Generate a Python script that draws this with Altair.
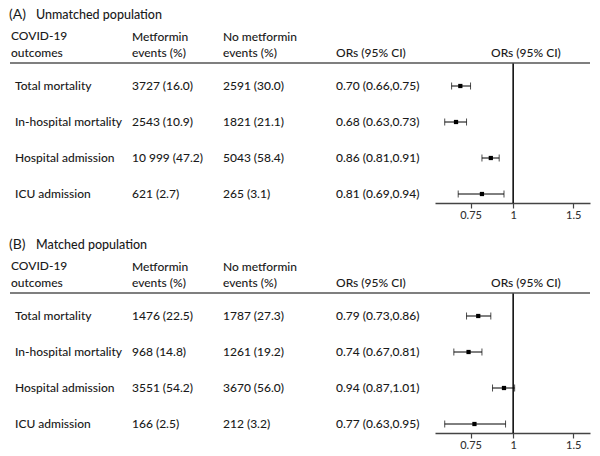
import altair as alt
import pandas as pd

# ---- data ---------------------------------------------------------------
outcomes = ["Total mortality", "In-hospital mortality", "Hospital admission", "ICU admission"]

a_met_events = [3727, 2543, 10999, 621]
a_met_pct = [16.0, 10.9, 47.2, 2.7]
a_nomet_events = [2591, 1821, 5043, 265]
a_nomet_pct = [30.0, 21.1, 58.4, 3.1]
a_or = [0.70, 0.68, 0.86, 0.81]
a_lo = [0.66, 0.63, 0.81, 0.69]
a_hi = [0.75, 0.73, 0.91, 0.94]

b_met_events = [1476, 968, 3551, 166]
b_met_pct = [22.5, 14.8, 54.2, 2.5]
b_nomet_events = [1787, 1261, 3670, 212]
b_nomet_pct = [27.3, 19.2, 56.0, 3.2]
b_or = [0.79, 0.74, 0.94, 0.77]
b_lo = [0.73, 0.67, 0.87, 0.63]
b_hi = [0.86, 0.81, 1.01, 0.95]

or_ticks = [0.75, 1, 1.5]

FONT = "Lato"
TXT = "#1a1a1a"
LINE = "#444444"
WEIGHT = 500
W, H = 600, 203


def fmt_n(n):
    return f"{n:,}".replace(",", " ") if n >= 10000 else str(n)


def table(met_e, met_p, nomet_e, nomet_p, ors, lo, hi):
    return pd.DataFrame({
        "outcome": outcomes,
        "met": [f"{fmt_n(e)} ({p:.1f})" for e, p in zip(met_e, met_p)],
        "nomet": [f"{fmt_n(e)} ({p:.1f})" for e, p in zip(nomet_e, nomet_p)],
        "or": ors,
        "lo": lo,
        "hi": hi,
        "or_txt": [f"{o:.2f} ({l:.2f},{h:.2f})" for o, l, h in zip(ors, lo, hi)],
    })


xscale = alt.Scale(type="log", domain=[0.59, 1.68], range=[435, 590], nice=False)
yscale = alt.Scale(type="point", domain=outcomes, range=[86, 194], padding=0)


def label(text, x, y, size=12, weight=WEIGHT):
    return alt.Chart(pd.DataFrame({"t": [text]})).mark_text(
        align="left", baseline="middle", font=FONT, fontSize=size,
        fontWeight=weight, color=TXT
    ).encode(x=alt.value(x), y=alt.value(y), text="t:N")


def panel(tag, title, df):
    base = alt.Chart(df)
    y = alt.Y("outcome:N", scale=yscale, axis=None)

    col = lambda field, x: base.mark_text(
        align="left", baseline="middle", font=FONT, fontSize=12,
        fontWeight=WEIGHT, color=TXT
    ).encode(x=alt.value(x), y=y, text=f"{field}:N")

    x_axis = alt.Axis(
        values=or_ticks, format="~g", title=None, grid=False,
        domainColor=LINE, domainWidth=1.5, tickColor=LINE, tickWidth=1.2,
        tickSize=5, labelFont=FONT, labelFontSize=11, labelColor="#333333",
        labelFontWeight=WEIGHT, labelPadding=1,
    )

    ci = base.mark_rule(color="black", strokeWidth=1).encode(
        x=alt.X("lo:Q", scale=xscale, axis=x_axis), x2="hi:Q", y=y
    )
    cap_lo = base.mark_tick(color="black", thickness=1, size=7).encode(x="lo:Q", y=y)
    cap_hi = base.mark_tick(color="black", thickness=1, size=7).encode(x="hi:Q", y=y)
    pt = base.mark_square(color="black", size=18, opacity=1).encode(x="or:Q", y=y)

    ref = alt.Chart(pd.DataFrame({"v": [1]})).mark_rule(
        color="black", strokeWidth=1.5
    ).encode(x="v:Q", y=alt.value(63), y2=alt.value(H))

    header_rule = alt.Chart(pd.DataFrame({"v": [0]})).mark_rule(
        color="#555555", strokeWidth=1.5
    ).encode(x=alt.value(10), x2=alt.value(590), y=alt.value(63))

    headers = [
        label(tag, 9, 15, size=14, weight="normal"),
        label(title, 36, 15, size=12.5),
        label("COVID-19", 11, 36), label("outcomes", 11, 53),
        label("Metformin", 132, 37), label("events (%)", 132, 53),
        label("No metformin", 223, 37), label("events (%)", 223, 53),
        label("ORs (95% CI)", 336, 53),
        label("ORs (95% CI)", 491, 53),
    ]

    return alt.layer(
        ci, cap_lo, cap_hi, pt, ref, header_rule,
        col("outcome", 15), col("met", 132), col("nomet", 223), col("or_txt", 336),
        *headers,
    ).properties(width=W, height=H)


top = panel("(A)", "Unmatched population",
            table(a_met_events, a_met_pct, a_nomet_events, a_nomet_pct, a_or, a_lo, a_hi))
bottom = panel("(B)", "Matched population",
               table(b_met_events, b_met_pct, b_nomet_events, b_nomet_pct, b_or, b_lo, b_hi))

chart = alt.vconcat(top, bottom, spacing=10).properties(
    padding=0, background="white"
).configure_view(stroke=None)

chart.save("out.html", embed_options={"renderer": "svg", "actions": False})
